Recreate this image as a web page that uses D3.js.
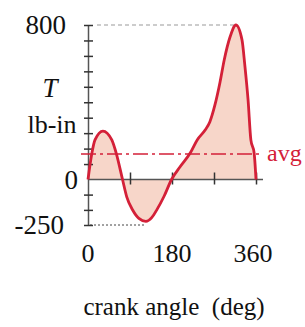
<!DOCTYPE html>
<html>
<head>
<meta charset="utf-8">
<script src="https://cdn.jsdelivr.net/npm/d3@7"></script>
<style>
  body { margin: 0; background: #fff; }
  svg text { font-family: "Liberation Serif", "DejaVu Serif", serif; fill: #111; }
</style>
</head>
<body>
<svg id="chart" width="305" height="327"></svg>
<script>
// torque curve over one crank revolution (deg, lb-in)
const angles  = [0, 8, 15, 32, 51, 61, 74, 83, 96, 109, 124, 137, 148, 163, 179, 197, 219, 234, 251, 261, 272, 283, 292, 304, 317, 330, 336, 343, 349, 356, 360];
const torques = [0, 132, 205, 251, 205, 132, 0, -95, -169, -214, -230, -208, -164, -92, 0, 65, 137, 205, 256, 298, 386, 505, 620, 735, 800, 723, 593, 412, 205, 137, 0];
const avgTorque = 132;
const xTickValues = [0, 90, 180, 270, 360];
const xTickLabels = [0, 180, 360];
const yTickValues = [-250, -167, -83, 0, 80, 160, 240, 320, 400, 480, 560, 640, 720, 800];
const yTickLabels = [800, 0, -250];

const svg = d3.select("#chart");

// scales (the drawing is not quite to scale below zero, hence the piecewise y)
const x = d3.scaleLinear().domain([0, 360]).range([88, 256]);
const y = d3.scaleLinear().domain([-250, 0, 800]).range([225, 179.5, 25]);

const data = angles.map((a, i) => ({ a: a, t: torques[i] }));

const red = "#d42038";
const axisCol = "#555";
const curve = d3.curveMonotoneX;

// shaded area between curve and zero
svg.append("path")
   .datum(data)
   .attr("fill", "#f7d6c9")
   .attr("d", d3.area().curve(curve)
       .x(d => x(d.a)).y0(y(0)).y1(d => y(d.t)));

// guide lines for max and min
svg.append("line")
   .attr("x1", x(0) + 9).attr("x2", x(317))
   .attr("y1", y(800)).attr("y2", y(800))
   .attr("stroke", "#999").attr("stroke-width", 1).attr("stroke-dasharray", "4,3");
svg.append("line")
   .attr("x1", x(0) + 2).attr("x2", x(124))
   .attr("y1", y(-250)).attr("y2", y(-250))
   .attr("stroke", "#444").attr("stroke-width", 1).attr("stroke-dasharray", "2,2");

// x axis
const xAxis = svg.append("g")
   .attr("transform", `translate(0,${y(0)})`)
   .call(d3.axisBottom(x).tickValues(xTickValues).tickFormat("").tickSizeOuter(0));
xAxis.select(".domain").attr("stroke", axisCol).attr("stroke-width", 1.5)
   .attr("d", `M${x(0)},0H${x(360) + 7}`);
xAxis.selectAll(".tick line").attr("stroke", "#333").attr("stroke-width", 1.5)
   .attr("y1", -7).attr("y2", 5);
xAxis.selectAll(".tick").filter(d => d === 0).remove();

// y axis
const yAxis = svg.append("g")
   .attr("transform", `translate(${x(0)},0)`)
   .call(d3.axisLeft(y).tickValues(yTickValues).tickFormat("").tickSizeOuter(0));
yAxis.select(".domain").attr("stroke", axisCol).attr("stroke-width", 1.5);
yAxis.selectAll(".tick line").attr("stroke", "#333").attr("stroke-width", 1.5)
   .attr("x1", -4).attr("x2", 5);
yAxis.selectAll(".tick").filter(d => d === 0).remove();

// torque curve
svg.append("path")
   .datum(data)
   .attr("fill", "none")
   .attr("stroke", red)
   .attr("stroke-width", 2.8)
   .attr("stroke-linejoin", "round")
   .attr("d", d3.line().curve(curve)
       .x(d => x(d.a)).y(d => y(d.t)));

// average line
svg.append("line")
   .attr("x1", x(0) - 7).attr("x2", x(360) + 7)
   .attr("y1", y(avgTorque)).attr("y2", y(avgTorque))
   .attr("stroke", red).attr("stroke-width", 1.4)
   .attr("stroke-dasharray", "15,4,3,4");
svg.append("text")
   .attr("x", x(360) + 11).attr("y", y(avgTorque))
   .attr("dy", "0.3em")
   .style("font-size", "24px")
   .style("fill", red)
   .text("avg");

// y tick labels
const yLabelX = { 800: 66, 0: 78, "-250": 64 };
svg.selectAll(".ylab")
   .data(yTickLabels)
   .enter().append("text")
   .attr("class", "ylab")
   .attr("x", d => yLabelX[d])
   .attr("y", d => y(d))
   .attr("dy", "0.34em")
   .attr("text-anchor", "end")
   .style("font-size", "27px")
   .text(d => d);

// x tick labels
svg.selectAll(".xlab")
   .data(xTickLabels)
   .enter().append("text")
   .attr("class", "xlab")
   .attr("x", d => x(d) - (d === 360 ? 3 : 0))
   .attr("y", 262)
   .attr("text-anchor", "middle")
   .style("font-size", "26px")
   .text(d => d);

// axis titles
svg.append("text")
   .attr("x", 50).attr("y", 97)
   .attr("text-anchor", "middle")
   .style("font-size", "27px")
   .style("font-style", "italic")
   .text("T");
svg.append("text")
   .attr("x", 52).attr("y", 133)
   .attr("text-anchor", "middle")
   .style("font-size", "26px")
   .text("lb-in");
svg.append("text")
   .attr("x", 174).attr("y", 315)
   .attr("text-anchor", "middle")
   .style("font-size", "25px")
   .attr("xml:space", "preserve")
   .text("crank angle  (deg)");
</script>
</body>
</html>
